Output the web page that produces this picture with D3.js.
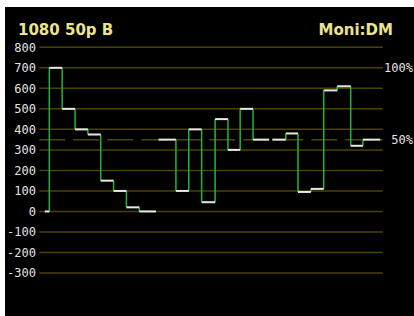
<!DOCTYPE html>
<html>
<head>
<meta charset="utf-8">
<script src="https://d3js.org/d3.v7.min.js"></script>
<style>
  html, body { margin: 0; padding: 0; background: #fff; }
  svg { display: block; }
</style>
</head>
<body>
<svg id="chart" width="414" height="316"></svg>
<script>
// level ticks shown on the left
var yTicks = [800, 700, 600, 500, 400, 300, 200, 100, 0, -100, -200, -300];
// percentage marks on the right
var pctLabels = ["100%", "50%"];
var pctValues = [700, 350];

// three runs of steps; times are step boundaries, values are levels per step
var run1Times  = [-0.35, 0, 1, 2, 3, 4, 5, 6, 7, 8.3];
var run1Values = [0, 700, 500, 400, 375, 150, 100, 20, 0];
var run2Times  = [8.5, 9.85, 10.85, 11.85, 12.9, 13.9, 14.85, 15.85, 17.1];
var run2Values = [350, 100, 400, 45, 450, 300, 500, 350];
var run3Times  = [17.35, 18.4, 19.35, 20.35, 21.35, 22.4, 23.45, 24.4, 25.75];
var run3Values = [350, 380, 95, 110, 590, 610, 320, 350];

var title = "1080 50p B";
var mode = "Moni:DM";

var svg = d3.select("#chart");

// black screen area
svg.append("rect")
    .attr("x", 5).attr("y", 7)
    .attr("width", 409).attr("height", 309)
    .attr("fill", "#000");

var x = d3.scaleLinear()
    .domain([-0.78, 25.94])
    .range([39.3, 382.7]);

var y = d3.scaleLinear()
    .domain([-300, 800])
    .range([273, 47.3]);

// grid lines
svg.append("g")
  .selectAll("line")
  .data(yTicks)
  .join("line")
    .attr("x1", x.range()[0]).attr("x2", x.range()[1])
    .attr("y1", function(d) { return y(d); })
    .attr("y2", function(d) { return y(d); })
    .attr("stroke", "#4c4200")
    .attr("stroke-width", 1.5);

// 50% dashed reference
svg.append("line")
    .attr("x1", x.range()[0]).attr("x2", x.range()[1])
    .attr("y1", y(350)).attr("y2", y(350))
    .attr("stroke", "#4c4410")
    .attr("stroke-width", 1.5)
    .attr("stroke-dasharray", "26,8");

// left tick labels
svg.append("g")
  .selectAll("text")
  .data(yTicks)
  .join("text")
    .attr("x", 36)
    .attr("y", function(d) { return y(d); })
    .attr("dy", "0.35em")
    .attr("text-anchor", "end")
    .attr("font-family", "DejaVu Sans Mono")
    .attr("font-size", 12)
    .attr("fill", "#e4e4e4")
    .text(function(d) { return d; });

// right percentage labels
svg.append("g")
  .selectAll("text")
  .data(pctLabels)
  .join("text")
    .attr("x", 413)
    .attr("y", function(d, i) { return y(pctValues[i]); })
    .attr("dy", "0.35em")
    .attr("text-anchor", "end")
    .attr("font-family", "DejaVu Sans Mono")
    .attr("font-size", 12)
    .attr("fill", "#e4e4e4")
    .text(function(d) { return d; });

// headers
svg.append("text")
    .attr("x", 18).attr("y", 34.5)
    .attr("font-family", "DejaVu Sans")
    .attr("font-weight", "bold")
    .attr("font-size", 15)
    .attr("fill", "#ece48c")
    .text(title);

svg.append("text")
    .attr("x", 393).attr("y", 34.5)
    .attr("text-anchor", "end")
    .attr("font-family", "DejaVu Sans")
    .attr("font-weight", "bold")
    .attr("font-size", 15)
    .attr("fill", "#ece48c")
    .text(mode);

var runs = [
  {times: run1Times, values: run1Values},
  {times: run2Times, values: run2Values},
  {times: run3Times, values: run3Values}
];

var trace = svg.append("g");

runs.forEach(function(run) {
  var steps = run.values.map(function(v, i) {
    return {t0: run.times[i], t1: run.times[i + 1], v: v};
  });

  // green risers between neighbouring steps
  trace.selectAll(null)
    .data(steps.slice(1))
    .join("line")
      .attr("x1", function(d) { return x(d.t0); })
      .attr("x2", function(d) { return x(d.t0); })
      .attr("y1", function(d, i) { return y(steps[i].v); })
      .attr("y2", function(d) { return y(d.v); })
      .attr("stroke", "#22b43a")
      .attr("stroke-width", 1.5);

  // white step tops
  trace.selectAll(null)
    .data(steps)
    .join("line")
      .attr("x1", function(d) { return x(d.t0); })
      .attr("x2", function(d) { return x(d.t1); })
      .attr("y1", function(d) { return y(d.v); })
      .attr("y2", function(d) { return y(d.v); })
      .attr("stroke", "#e8e8e8")
      .attr("stroke-width", 2);
});
</script>
</body>
</html>
